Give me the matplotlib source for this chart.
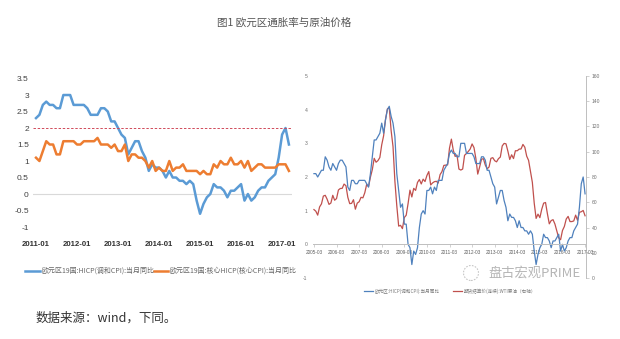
import matplotlib
matplotlib.use("Agg")
import matplotlib.pyplot as plt
from matplotlib.patches import Ellipse
import numpy as np

plt.rcParams['font.family'] = ['Noto Sans CJK SC', 'DejaVu Sans']

# ---------------------------------------------------------------------------
# Data (monthly)
# ---------------------------------------------------------------------------
# Euro area HICP y/y, 2005-03 .. 2017-03
hicp = [
    2.1, 2.1, 2.0, 2.1, 2.2, 2.2, 2.6, 2.5, 2.3, 2.2,                # 2005 Mar-Dec
    2.4, 2.3, 2.2, 2.4, 2.5, 2.5, 2.4, 2.3, 1.7, 1.6, 1.9, 1.9,      # 2006
    1.8, 1.8, 1.9, 1.9, 1.9, 1.9, 1.8, 1.7, 2.1, 2.6, 3.1, 3.1,      # 2007
    3.2, 3.3, 3.6, 3.3, 3.7, 4.0, 4.1, 3.8, 3.6, 3.2, 2.1, 1.6,      # 2008
    1.1, 1.2, 0.6, 0.6, 0.0, -0.1, -0.6, -0.2, -0.3, -0.1, 0.5, 0.9,  # 2009
    1.0, 0.9, 1.6, 1.6, 1.7, 1.5, 1.7, 1.6, 1.9, 1.9, 1.9, 2.2,      # 2010
    2.3, 2.4, 2.7, 2.8, 2.7, 2.7, 2.6, 2.6, 3.0, 3.0, 3.0, 2.7,      # 2011
    2.7, 2.7, 2.7, 2.6, 2.4, 2.4, 2.4, 2.6, 2.6, 2.5, 2.2, 2.2,      # 2012
    2.0, 1.8, 1.7, 1.2, 1.4, 1.6, 1.6, 1.3, 1.1, 0.7, 0.9, 0.8,      # 2013
    0.8, 0.7, 0.5, 0.7, 0.5, 0.5, 0.4, 0.4, 0.3, 0.4, 0.3, -0.2,     # 2014
    -0.6, -0.3, -0.1, 0.0, 0.3, 0.2, 0.2, 0.1, -0.1, 0.1, 0.1, 0.2,  # 2015
    0.3, -0.2, 0.0, -0.2, -0.1, 0.1, 0.2, 0.2, 0.4, 0.5, 0.6, 1.1,   # 2016
    1.8, 2.0, 1.5,                                                   # 2017
]

# Euro area core HICP y/y, 2011-01 .. 2017-03
core_hicp = [
    1.1, 1.0, 1.3, 1.6, 1.5, 1.5, 1.2, 1.2, 1.6, 1.6, 1.6, 1.6,
    1.5, 1.5, 1.6, 1.6, 1.6, 1.6, 1.7, 1.5, 1.5, 1.5, 1.4, 1.5,
    1.3, 1.3, 1.5, 1.0, 1.2, 1.2, 1.1, 1.1, 1.0, 0.8, 1.0, 0.7,
    0.8, 0.7, 0.7, 1.0, 0.7, 0.8, 0.8, 0.9, 0.7, 0.7, 0.7, 0.7,
    0.6, 0.7, 0.6, 0.6, 0.9, 0.8, 1.0, 0.9, 0.9, 1.1, 0.9, 0.9,
    1.0, 0.8, 1.0, 0.7, 0.8, 0.9, 0.9, 0.8, 0.8, 0.8, 0.8, 0.9,
    0.9, 0.9, 0.7,
]

# WTI crude (continuous futures settlement), USD, 2005-03 .. 2017-03
wti = [
    54.2, 52.9, 49.8, 56.3, 58.7, 64.9, 65.5, 62.4, 58.3, 59.4,
    65.5, 61.6, 62.9, 69.7, 70.9, 71.0, 74.4, 73.1, 63.9, 58.9, 59.1, 62.0,
    54.5, 59.3, 60.4, 63.9, 63.5, 67.5, 74.1, 72.4, 79.9, 85.8, 94.8, 91.7,
    93.0, 95.4, 105.5, 112.6, 125.4, 133.9, 135.0, 116.7, 104.1, 76.6, 57.3, 41.1,
    41.7, 39.1, 47.9, 49.7, 59.0, 69.6, 64.2, 71.0, 69.4, 75.7, 78.0, 74.5,
    78.3, 76.4, 81.2, 84.3, 73.7, 75.3, 76.3, 76.6, 75.2, 81.9, 84.3, 89.2,
    89.4, 89.6, 102.9, 110.0, 101.3, 96.3, 97.3, 86.3, 85.5, 86.3, 97.2, 98.6,
    100.3, 102.2, 106.2, 103.3, 94.7, 82.3, 87.9, 94.1, 94.5, 89.5, 86.5, 87.9,
    94.8, 95.3, 92.9, 92.0, 94.5, 95.8, 104.6, 106.6, 106.3, 100.5, 93.9, 97.6,
    94.6, 100.8, 100.8, 102.1, 102.2, 105.8, 103.6, 96.5, 93.2, 84.4, 75.8, 59.3,
    47.2, 50.6, 47.8, 54.5, 59.3, 59.8, 50.9, 42.9, 45.5, 46.2, 42.7, 37.3,
    31.8, 30.3, 37.6, 40.8, 46.7, 48.8, 44.7, 44.7, 45.2, 49.8, 45.7, 52.0,
    52.5, 53.5, 49.3,
]

left_years = ["2011-01", "2012-01", "2013-01", "2014-01", "2015-01", "2016-01", "2017-01"]
right_years = ["2005-03", "2006-03", "2007-03", "2008-03", "2009-03", "2010-03", "2011-03",
               "2012-03", "2013-03", "2014-03", "2015-03", "2016-03", "2017-03"]
left_yticks = [3.5, 3, 2.5, 2, 1.5, 1, 0.5, 0, -0.5, -1]
right_yticks = [-1, 0, 1, 2, 3, 4, 5]
wti_ticks = [0, 20, 40, 60, 80, 100, 120, 140, 160]
target_rate = 2.0

title = "图1 欧元区通胀率与原油价格"
left_labels = ["欧元区19国:HICP(调和CPI):当月同比", "欧元区19国:核心HICP(核心CPI):当月同比"]
right_labels = ["欧元区:HICP(调和CPI):当月同比", "期货结算价(连续):WTI原油（右轴）"]
source = "数据来源：wind，下同。"
watermark = "盘古宏观PRIME"

# ---------------------------------------------------------------------------
W, H = 620, 339
fig = plt.figure(figsize=(W / 100, H / 100), dpi=100)
NUMFONT = ['Liberation Sans Narrow', 'Liberation Sans', 'DejaVu Sans']


def px_axes(l, t, r, b):
    return fig.add_axes([l / W, 1 - b / H, (r - l) / W, (b - t) / H])


def px(x, y):
    return x / W, 1 - y / H


def style_labels(labels, size, color, weight="normal"):
    for t in labels:
        t.set_family(NUMFONT)
        t.set_fontsize(size)
        t.set_color(color)
        t.set_fontweight(weight)


BLUE, ORANGE = "#5b9bd5", "#ed7d31"
RBLUE, RRED = "#4f81bd", "#c0504d"

# ----- left chart ----------------------------------------------------------
ax = px_axes(33, 70, 292, 235)
n_left = len(core_hicp)
xl = np.arange(n_left)
start = len(hicp) - n_left
ax.plot(xl, hicp[start:], color=BLUE, lw=1.8, solid_joinstyle="round")
ax.plot(xl, core_hicp, color=ORANGE, lw=1.8, solid_joinstyle="round")
ax.axhline(0, color="#d9d9d9", lw=0.8, zorder=0)
ax.axhline(target_rate, color="#d04a5a", lw=0.7, ls=(0, (2.5, 1.8)))
ax.set_xlim(-0.88, 74.9)
ax.set_ylim(-1.242, 3.758)
ax.set_yticks(left_yticks)
ax.set_yticklabels([f"{v:g}" for v in left_yticks])
ax.set_xticks(np.arange(len(left_years)) * 12)
ax.set_xticklabels(left_years)
ax.tick_params(axis="y", length=0, pad=3)
ax.tick_params(axis="x", length=0, pad=4)
style_labels(ax.get_yticklabels(), 6, "#404040")
style_labels(ax.get_xticklabels(), 5.6, "#303030", "bold")
for s in ax.spines.values():
    s.set_visible(False)
ax.patch.set_alpha(0)

# legend (left)
for (x0, x1, xt), lab, col in zip([(25, 40, 41), (154, 168, 169)], left_labels, [BLUE, ORANGE]):
    fig.add_artist(plt.Line2D([x0 / W, x1 / W], [1 - 271 / H] * 2, color=col, lw=1.8))
    fig.text(*px(xt, 271), lab, fontsize=5, color="#666666", va="center", ha="left")

# ----- right chart ---------------------------------------------------------
ax2 = px_axes(313, 76, 586, 278)
ax3 = ax2.twinx()
xr = np.arange(len(hicp))
ax2.plot(xr, hicp, color=RBLUE, lw=0.9)
ax3.plot(xr, wti, color=RRED, lw=0.9)

ax2.set_xlim(-0.5, len(hicp) - 0.5)
ax2.set_ylim(-1, 5)
ax3.set_ylim(0, 160)

ax2.set_yticks(right_yticks)
ax2.set_yticklabels([str(v) for v in right_yticks])
ax2.tick_params(axis="y", length=0, pad=4)
ax2.set_xticks(np.arange(len(right_years)) * 12)
ax2.set_xticklabels(right_years)
ax2.tick_params(axis="x", length=2, width=0.5, color="#bfbfbf", pad=2)
ax3.set_yticks(wti_ticks)
ax3.set_yticklabels([str(v) for v in wti_ticks])
ax3.tick_params(axis="y", length=2, width=0.5, color="#bfbfbf", pad=2)

for s in ("top", "left", "right"):
    ax2.spines[s].set_visible(False)
ax2.spines["bottom"].set_position(("data", 0))
ax2.spines["bottom"].set_color("#bfbfbf")
ax2.spines["bottom"].set_linewidth(0.7)
for s in ("top", "left", "bottom"):
    ax3.spines[s].set_visible(False)
ax3.spines["right"].set_color("#bfbfbf")
ax3.spines["right"].set_linewidth(0.7)
ax2.set_zorder(ax3.get_zorder() + 1)
ax2.patch.set_visible(False)

style_labels(ax2.get_yticklabels(), 3.6, "#707070")
style_labels(ax2.get_xticklabels(), 3.4, "#606060")
style_labels(ax3.get_yticklabels(), 3.6, "#707070")

# legend (right)
for (x0, x1, xt), lab, col in zip([(364, 373, 375), (453, 462, 464)], right_labels, [RBLUE, RRED]):
    fig.add_artist(plt.Line2D([x0 / W, x1 / W], [1 - 291 / H] * 2, color=col, lw=0.9))
    fig.text(*px(xt, 291), lab, fontsize=3.3, color="#7a7a7a", va="center", ha="left")

# watermark
fig.add_artist(Ellipse(px(471, 273), 15 / W, 15 / H, fill=False, ec="#c8c8c8", lw=0.8, ls=(0, (1.5, 1.2))))
fig.text(*px(488, 273), watermark, fontsize=9.5, color="#b5b5b5", va="center", ha="left")

# ----- title / source ------------------------------------------------------
fig.text(*px(284, 23), title, fontsize=7.6, color="#555555", ha="center", va="center")
fig.text(*px(36, 318), source, fontsize=9, color="#333333", ha="left", va="center")

fig.savefig("out.png", dpi=100, facecolor="white")
